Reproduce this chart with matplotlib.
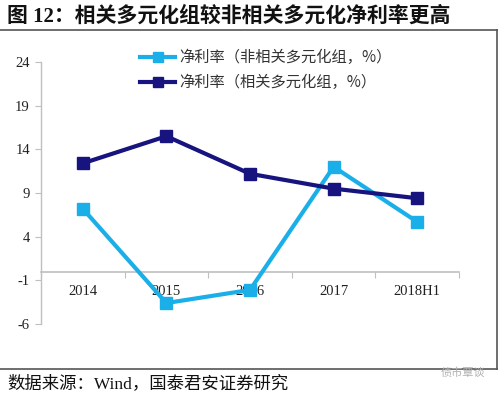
import matplotlib
matplotlib.use("Agg")
import matplotlib.pyplot as plt
from matplotlib.lines import Line2D

categories = ["2014", "2015", "2016", "2017", "2018H1"]
unrelated = [7.2, -3.6, -2.1, 12.0, 5.7]
related = [12.4, 15.5, 11.2, 9.5, 8.4]
yticks = [-6, -1, 4, 9, 14, 19, 24]
label_unrelated = "净利率（非相关多元化组，%）"
label_related = "净利率（相关多元化组，%）"
title = "图 12：相关多元化组较非相关多元化净利率更高"
source = "数据来源：Wind，国泰君安证券研究"

serif = "Liberation Serif"
plt.rcParams["font.family"] = [serif, "Noto Sans CJK SC"]

W, H = 500, 398
fig = plt.figure(figsize=(W / 100, H / 100), dpi=100)
fig.patch.set_facecolor("white")

ax = fig.add_axes([41 / W, 1 - 324 / H, (459 - 41) / W, (324 - 62) / H])
x = list(range(len(categories)))
c_light = "#1AAFE8"
c_dark = "#17137F"
ax.plot(x, unrelated, color=c_light, lw=3.0, marker="s", ms=9, zorder=5,
        label=label_unrelated, clip_on=False)
ax.plot(x, related, color=c_dark, lw=3.0, marker="s", ms=9, zorder=6,
        label=label_related, clip_on=False)

ax.set_xlim(-0.5, len(categories) - 0.5)
ax.set_ylim(-6, 24)
ax.set_yticks(yticks)
ax.set_yticklabels([str(v) for v in yticks])
ax.set_xticks([i - 0.5 for i in range(len(categories) + 1)])
ax.set_xticklabels([])
ax.set_xticks(x, minor=True)
ax.set_xticklabels(categories, minor=True)
ax.tick_params(axis="x", which="minor", length=0, pad=10, labelsize=10.5,
               labelcolor="#222222")
ax.tick_params(axis="x", which="major", length=4, color="#bfbfbf", direction="out")
ax.tick_params(axis="y", length=4, color="#bfbfbf", pad=4, labelsize=10.5,
               labelcolor="#222222")

for s in ["top", "right"]:
    ax.spines[s].set_visible(False)
ax.spines["bottom"].set_position(("data", 0))
ax.spines["bottom"].set_color("#bfbfbf")
ax.spines["left"].set_color("#bfbfbf")
ax.spines["bottom"].set_linewidth(1.2)
ax.spines["left"].set_linewidth(1.0)
ax.spines["bottom"].set_zorder(2)

leg = fig.legend(loc="upper left", bbox_to_anchor=(140 / W, 1 - 49 / H),
                 frameon=False, handlelength=2.3, handletextpad=0.25,
                 labelspacing=0.55, borderpad=0, borderaxespad=0,
                 prop={"family": ["Noto Sans CJK SC"], "size": 11})
for h in leg.legend_handles:
    h.set_markersize(7)
    h.set_linewidth(3)
for t in leg.get_texts():
    t.set_color("#333333")

fig.text(7 / W, 1 - 16 / H, title, fontsize=15, fontweight="bold",
         family=[serif, "Noto Sans CJK SC"], va="center", ha="left",
         color="#111111")
fig.text(7 / W, 1 - 384 / H, source, fontsize=12.5,
         family=[serif, "Noto Sans CJK SC"], va="center", ha="left",
         color="#111111")
fig.text(485 / W, 1 - 373 / H, "债市覃谈", fontsize=8,
         family=["Noto Sans CJK SC"], va="center", ha="right", color="#b0b0b0")

fig.add_artist(Line2D([0, 497 / W], [1 - 30 / H, 1 - 30 / H], color="#555555", lw=1.2))
fig.add_artist(Line2D([0, 497 / W], [1 - 369 / H, 1 - 369 / H], color="#555555", lw=1.2))
fig.add_artist(Line2D([497 / W, 497 / W], [1 - 30 / H, 1 - 369 / H], color="#555555", lw=1.2))

fig.savefig("out.png", dpi=100)
